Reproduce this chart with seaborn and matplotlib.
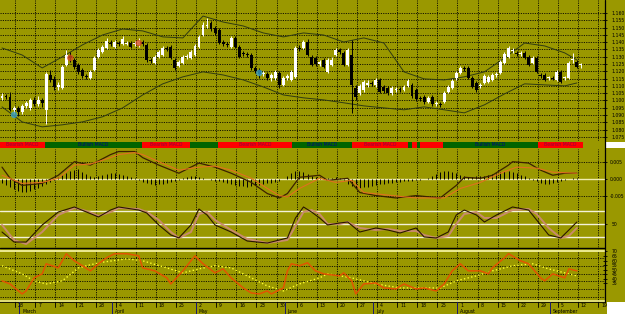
import numpy as np
import pandas as pd
import matplotlib
matplotlib.use("Agg")
import matplotlib.pyplot as plt
import seaborn as sns
from matplotlib.patches import Rectangle
from matplotlib.lines import Line2D

sns.set_style("white")
plt.rcParams['font.family'] = ['DejaVu Sans']

# ---------------- DATA ----------------
opens = [1.1018,1.1031,1.1025,1.0936,1.0949,1.0922,1.0963,1.0949,1.1004,1.0977,1.1004,1.0936,1.1175,1.1148,1.1093,1.1086,
         1.1244,1.1305,1.1278,1.1244,1.1210,1.1168,1.1155,1.1210,1.1299,1.1333,1.1360,1.1394,1.1367,1.1394,1.1388,1.1388,
         1.1394,1.1388,1.1381,1.1401,1.1381,1.1278,1.1258,1.1299,1.1312,1.1360,1.1367,1.1278,1.1237,1.1258,1.1299,1.1292,
         1.1312,1.1367,1.1449,1.1511,1.1531,1.1497,1.1484,1.1401,1.1388,1.1367,1.1429,1.1367,1.1326,1.1319,1.1312,1.1223,
         1.1210,1.1182,1.1182,1.1155,1.1155,1.1189,1.1107,1.1155,1.1141,1.1162,1.1360,1.1360,1.1401,1.1299,1.1292,1.1251,
         1.1278,1.1196,1.1244,1.1312,1.1347,1.1326,1.1244,1.1312,1.1086,1.1052,1.1073,1.1107,1.1121,1.1107,1.1141,1.1093,
         1.1086,1.1052,1.1073,1.1079,1.1073,1.1100,1.1107,1.1073,1.1018,1.1025,1.0990,1.1025,1.0977,1.0977,1.0990,1.1059,
         1.1086,1.1155,1.1189,1.1223,1.1223,1.1155,1.1121,1.1100,1.1121,1.1127,1.1141,1.1175,1.1189,1.1258,1.1299,1.1340,
         1.1326,1.1319,1.1326,1.1299,1.1258,1.1292,1.1175,1.1175,1.1155,1.1155,1.1141,1.1196,1.1155,1.1155,1.1278,1.1264,
         1.1244]
closes = [1.1031,1.1025,1.0936,1.0949,1.0922,1.0963,1.0984,1.1004,1.0977,1.1004,1.0984,1.1182,1.1141,1.1093,1.1107,1.1230,
          1.1312,1.1292,1.1230,1.1196,1.1168,1.1162,1.1196,1.1292,1.1347,1.1367,1.1408,1.1388,1.1401,1.1388,1.1422,1.1394,
          1.1367,1.1394,1.1408,1.1388,1.1278,1.1271,1.1299,1.1333,1.1360,1.1353,1.1292,1.1223,1.1264,1.1299,1.1305,1.1333,
          1.1374,1.1436,1.1518,1.1518,1.1490,1.1463,1.1394,1.1388,1.1381,1.1429,1.1367,1.1299,1.1319,1.1312,1.1223,1.1203,
          1.1182,1.1189,1.1155,1.1175,1.1196,1.1107,1.1155,1.1168,1.1196,1.1360,1.1353,1.1401,1.1312,1.1244,1.1251,1.1264,
          1.1230,1.1278,1.1278,1.1347,1.1333,1.1244,1.1347,1.1107,1.1025,1.1100,1.1127,1.1121,1.1114,1.1141,1.1059,1.1066,
          1.1052,1.1086,1.1079,1.1073,1.1093,1.1134,1.1031,1.1011,1.1011,1.0990,1.1018,1.0977,1.0984,1.0970,1.1052,1.1093,
          1.1134,1.1189,1.1223,1.1216,1.1155,1.1093,1.1073,1.1107,1.1168,1.1162,1.1175,1.1182,1.1264,1.1319,1.1360,1.1347,
          1.1319,1.1326,1.1292,1.1244,1.1292,1.1196,1.1168,1.1141,1.1155,1.1148,1.1196,1.1127,1.1155,1.1258,1.1278,1.1230,
          1.1244]
highs = [1.1052,1.1045,1.1059,1.0963,1.0963,1.0977,1.0997,1.1018,1.1025,1.1031,1.1018,1.1196,1.1210,1.1168,1.1127,1.1244,
         1.1347,1.1333,1.1292,1.1258,1.1223,1.1182,1.1210,1.1305,1.1360,1.1381,1.1429,1.1415,1.1415,1.1408,1.1442,1.1408,
         1.1408,1.1408,1.1429,1.1415,1.1394,1.1292,1.1312,1.1347,1.1374,1.1374,1.1381,1.1292,1.1278,1.1312,1.1319,1.1347,
         1.1388,1.1449,1.1538,1.1566,1.1545,1.1511,1.1497,1.1415,1.1401,1.1442,1.1442,1.1381,1.1340,1.1333,1.1326,1.1237,
         1.1223,1.1203,1.1196,1.1189,1.1210,1.1203,1.1168,1.1182,1.1210,1.1374,1.1381,1.1415,1.1422,1.1312,1.1305,1.1278,
         1.1292,1.1292,1.1299,1.1360,1.1360,1.1340,1.1360,1.1415,1.1107,1.1114,1.1141,1.1141,1.1134,1.1155,1.1155,1.1107,
         1.1100,1.1100,1.1093,1.1093,1.1107,1.1148,1.1121,1.1086,1.1031,1.1038,1.1031,1.1038,1.0997,1.0990,1.1066,1.1107,
         1.1148,1.1203,1.1237,1.1237,1.1237,1.1168,1.1134,1.1121,1.1182,1.1175,1.1189,1.1196,1.1278,1.1333,1.1374,1.1360,
         1.1340,1.1340,1.1340,1.1312,1.1305,1.1305,1.1189,1.1189,1.1168,1.1168,1.1210,1.1210,1.1168,1.1271,1.1326,1.1278,
         1.1258]
lows = [1.1004,1.1011,1.0929,1.0915,1.0894,1.0908,1.0949,1.0936,1.0963,1.0963,1.0956,1.0840,1.1127,1.1073,1.1073,1.1079,
        1.1237,1.1264,1.1216,1.1182,1.1155,1.1148,1.1148,1.1203,1.1292,1.1326,1.1353,1.1374,1.1360,1.1374,1.1381,1.1381,
        1.1360,1.1374,1.1367,1.1374,1.1264,1.1258,1.1251,1.1292,1.1305,1.1340,1.1285,1.1210,1.1230,1.1251,1.1285,1.1285,
        1.1305,1.1360,1.1442,1.1497,1.1477,1.1449,1.1388,1.1374,1.1367,1.1360,1.1360,1.1292,1.1305,1.1299,1.1210,1.1189,
        1.1155,1.1168,1.1141,1.1134,1.1141,1.1086,1.1100,1.1141,1.1134,1.1155,1.1340,1.1353,1.1305,1.1237,1.1237,1.1237,
        1.1223,1.1189,1.1237,1.1305,1.1319,1.1237,1.1237,1.0915,1.1004,1.1038,1.1059,1.1093,1.1100,1.1093,1.1052,1.1052,
        1.1038,1.1038,1.1059,1.1059,1.1066,1.1093,1.1018,1.0997,1.0997,1.0977,1.0984,1.0963,1.0963,1.0956,1.0984,1.1052,
        1.1079,1.1141,1.1182,1.1203,1.1148,1.1086,1.1059,1.1086,1.1114,1.1121,1.1134,1.1162,1.1182,1.1251,1.1292,1.1326,
        1.1305,1.1305,1.1285,1.1237,1.1251,1.1189,1.1155,1.1134,1.1141,1.1141,1.1134,1.1121,1.1141,1.1148,1.1258,1.1223,
        1.1223]

# Bollinger bands (sampled)
bb_idx = [0,5,10,15,20,25,30,35,40,45,50,55,60,65,70,75,80,85,90,95,100,105,110,115,120,125,130,135,140,143]
bb_upper = [1.1360,1.1312,1.1223,1.1299,1.1381,1.1449,1.1490,1.1477,1.1436,1.1429,1.1579,1.1538,1.1511,1.1463,1.1436,
            1.1463,1.1449,1.1401,1.1429,1.1394,1.1196,1.1148,1.1141,1.1162,1.1196,1.1292,1.1394,1.1374,1.1326,1.1278]
bb_lower = [1.0956,1.0853,1.0819,1.0833,1.0853,1.0888,1.0949,1.1038,1.1114,1.1162,1.1196,1.1175,1.1141,1.1093,1.1038,
            1.1018,1.1004,1.0984,1.0963,1.0949,1.0936,1.0956,1.0936,1.0915,1.0970,1.1045,1.1114,1.1107,1.1100,1.1120]

# signal arrows
sell_idx = [17, 34]
sell_val = [1.1292, 1.1394]
buy_idx = [3, 64]
buy_val = [1.0901, 1.1189]

# signal strip
seg_start = [-0.5, 10.7, 34.8, 46.8, 53.7, 72.1, 87.1, 101.0, 102.0, 103.2, 104.0, 109.7, 133.3]
seg_end = [10.7, 34.8, 46.8, 53.7, 72.1, 87.1, 101.0, 102.0, 103.2, 104.0, 109.7, 133.3, 144.5]
seg_kind = ['bear','bull','bear','bull','bear','bull','bear','bull','bear','bull','bear','bull','bear']
seg_label = ['Bearish MACD','Bullish MACD','Bearish MACD','','Bearish MACD','Bullish MACD','Bearish MACD',
             '','','','','Bullish MACD','Bearish MACD']

# MACD
macd_hist = [-0.0012,-0.0018,-0.0024,-0.0030,-0.0033,-0.0036,-0.0036,-0.0033,-0.0030,-0.0027,-0.0021,
             -0.0015,-0.0009,-0.0003,0.0006,0.0012,0.0018,0.0024,0.0027,0.0030,0.0021,0.0015,0.0009,0.0006,
             0.0009,0.0012,0.0015,0.0018,0.0018,0.0015,0.0012,0.0009,0.0006,0.0003,-0.0003,
             -0.0009,-0.0012,-0.0015,-0.0018,-0.0015,-0.0015,-0.0012,-0.0009,-0.0006,-0.0003,
             0.0003,0.0006,0.0009,0.0009,0.0006,0.0003,0.0,-0.0003,-0.0006,-0.0006,
             -0.0009,-0.0012,-0.0015,-0.0018,-0.0021,-0.0021,-0.0024,-0.0021,-0.0018,-0.0018,-0.0015,-0.0012,
             -0.0012,-0.0009,-0.0006,0.0,0.0009,0.0018,0.0024,0.0024,0.0021,0.0015,
             0.0009,0.0006,0.0006,0.0003,0.0003,0.0003,0.0006,0.0003,-0.0003,
             -0.0015,-0.0021,-0.0027,-0.0027,-0.0024,-0.0024,-0.0021,-0.0018,-0.0015,-0.0015,-0.0012,-0.0012,-0.0009,
             -0.0009,-0.0006,-0.0006,-0.0006,-0.0003,-0.0003,0.0,0.0003,0.0009,0.0015,
             0.0021,0.0024,0.0024,0.0021,0.0018,0.0012,0.0009,
             0.0006,0.0006,0.0009,0.0009,0.0009,0.0012,0.0015,0.0018,0.0021,0.0024,
             0.0024,0.0021,0.0018,0.0012,0.0009,0.0003,
             -0.0003,-0.0006,-0.0012,-0.0015,-0.0015,-0.0012,-0.0009,-0.0006,-0.0003,
             0.0,0.0003,0.0003,0.0]
macd_idx = [0,2,5,10,14,18,22,27,29,33,35,39,44,49,53,57,62,66,69,71,74,79,81,86,89,93,98,103,109,113,115,119,122,126,
            127,131,134,137,140,143]
macd_main = [0.0036,0.0003,-0.0018,-0.0012,0.0012,0.0052,0.0042,0.0073,0.0082,0.0082,0.0064,0.0042,0.0018,0.0048,
             0.0036,0.0018,-0.0009,-0.0042,-0.0055,-0.0042,0.0006,0.0012,-0.0003,0.0003,-0.0039,-0.0048,-0.0055,
             -0.0048,-0.0055,-0.0018,0.0006,0.0003,0.0012,0.0042,0.0052,0.0048,0.0027,0.0012,0.0018,0.0018]
sig_idx = [0,5,10,14,18,22,27,29,33,35,39,44,49,53,57,62,66,69,71,74,79,83,87,90,97,103,110,114,119,124,128,133,137,143]
macd_signal = [0.0012,-0.0012,-0.0009,0.0003,0.0042,0.0045,0.0064,0.0073,0.0079,0.0073,0.0052,0.0027,0.0036,0.0039,
               0.0027,0.0003,-0.0027,-0.0048,-0.0052,-0.0027,0.0003,-0.0009,-0.0003,-0.0039,-0.0048,-0.0055,-0.0055,
               -0.0027,-0.0009,0.0018,0.0036,0.0033,0.0021,0.0018]

# Stochastic
stoch_idx = [0,3,6,10,14,18,21,24,27,29,34,36,39,42,44,47,49,51,53,57,61,66,71,73,75,77,79,81,84,86,89,93,96,99,
             103,105,108,111,113,115,118,120,123,127,131,133,136,139,141,143]
stoch_k = [31.5,8.4,8.4,47.7,77.7,89.3,77.7,66.2,82.3,89.3,82.3,75.4,47.7,24.6,18.0,47.7,84.6,70.8,47.7,31.5,
           10.7,6.1,17.7,63.9,89.3,77.7,63.9,47.7,52.3,54.6,31.5,40.8,36.1,29.2,40.8,20.0,17.7,31.5,70.8,82.3,
           70.8,54.6,70.8,89.3,82.3,59.2,24.6,17.7,36.1,54.6]
stoch_d = [47.7,13.1,3.8,31.5,70.8,86.9,80.0,68.5,77.7,86.9,84.6,77.7,59.2,31.5,17.7,31.5,73.1,77.7,59.2,36.1,
           15.4,6.1,13.1,45.4,77.7,82.3,73.1,50.0,50.0,54.6,40.8,36.1,38.5,33.8,33.8,24.6,17.7,22.3,50.0,73.1,
           77.7,63.9,63.9,82.3,84.6,73.1,40.8,17.7,22.3,40.8]

# RSI-type oscillator
rsi_idx = [0,2,5,6,8,10,11,14,16,18,20,22,24,26,28,31,34,35,38,41,42,45,48,50,53,55,57,60,62,64,66,67,70,71,72,
           74,76,78,80,84,85,87,88,90,93,95,98,100,103,105,108,110,112,114,116,119,121,122,125,126,129,131,134,135,
           137,140,141,143]
rsi_val = [37.6,34.2,23.2,26.5,40.9,45.3,56.4,51.9,67.5,59.7,54.2,48.6,56.4,63.0,67.5,67.5,65.2,51.9,48.6,40.9,
           34.2,48.6,65.2,56.4,46.4,50.8,40.9,29.8,24.3,23.2,26.5,23.2,29.8,48.6,56.4,54.2,57.5,48.6,45.3,43.1,
           46.4,37.6,23.2,34.2,35.3,29.8,28.7,34.2,28.7,29.8,26.5,34.2,48.6,56.4,48.6,48.6,45.3,51.9,63.0,67.5,
           59.7,56.4,40.9,37.6,45.3,40.9,50.8,48.6]
rsi_ma_idx = [0,5,8,11,15,19,24,31,35,41,45,49,53,57,62,66,70,74,79,81,87,93,99,104,109,113,118,122,127,132,136,141,143]
rsi_ma = [54.2,45.3,37.6,34.2,37.6,51.9,57.5,61.9,59.7,51.9,46.4,50.8,54.2,51.9,40.9,32.0,26.5,34.2,40.9,45.3,
          40.9,34.2,29.8,29.8,29.8,37.6,43.1,48.6,54.2,56.4,50.8,45.3,43.1]

day_labels = ['28','7','14','21','28','4','11','18','25','2','9','16','23','30','6','13','20','27',
              '4','11','18','25','1','8','15','22','29','5','12','19']
month_labels = ['March','April','May','June','July','August','September']
month_pos = [4.3, 27.3, 48.3, 70.3, 92.3, 113.3, 136.3]

price_ticks = [1.075,1.080,1.085,1.090,1.095,1.100,1.105,1.110,1.115,1.120,1.125,1.130,1.135,1.140,1.145,1.150,1.155,1.160]
macd_ticks = [-0.005, 0.0, 0.005]
rsi_ticks = [35,40,45,50,55,60,65,70]

# ---------------- STYLE / LAYOUT ----------------
OLIVE = '#9a9800'
W, H = 625, 314
AXR = 605
XMIN, XMAX = -0.4975, 150.0
week_pos = 3.3 + 5 * np.arange(len(day_labels))

fig = plt.figure(figsize=(W / 100, H / 100), dpi=100, facecolor=OLIVE)

def panel(y0, y1, x1=AXR, pad=3.0):
    ax = fig.add_axes([0, 1 - y1 / H, x1 / W, (y1 - y0) / H])
    ax.set_facecolor(OLIVE)
    for s in ax.spines.values():
        s.set_visible(False)
    ax.set_xlim(XMIN, XMAX)
    ax.set_xticks([])
    ax.yaxis.tick_right()
    ax.tick_params(axis='y', length=3, direction='inout', width=0.6, labelsize=3.3, pad=pad, colors='black')
    ax.set_yticks([])
    return ax

def vgrid(ax):
    for p in week_pos:
        ax.axvline(p, color='black', lw=0.6, ls=(0, (1.4, 1.4)), zorder=1)

def hgrid(ax, vals):
    for v in vals:
        ax.axhline(v, color='black', lw=0.6, ls=(0, (1.4, 1.4)), zorder=1)

def line(ax, x, y, **kw):
    df = pd.DataFrame({'x': x, 'y': y})
    sns.lineplot(data=df, x='x', y='y', ax=ax, estimator=None, sort=False, legend=False, **kw)
    ax.set_xlabel(''); ax.set_ylabel('')

# ---- price panel ----
axp = panel(0, 141)
axp.set_ylim(1.0722, 1.1689)
vgrid(axp); hgrid(axp, price_ticks)
axp.set_yticks(price_ticks)
axp.set_yticklabels([f"{v:.3f}" for v in price_ticks])
n = min(len(opens), len(closes), len(highs), len(lows))
o = np.array(opens[:n]); c = np.array(closes[:n]); hi = np.array(highs[:n]); lo = np.array(lows[:n])
idx = np.arange(n)
up = c >= o
cols = np.where(up, 'white', 'black')
axp.vlines(idx, lo, hi, colors=cols, lw=0.7, zorder=3)
axp.bar(idx, np.maximum(np.abs(c - o), 0.0004), bottom=np.minimum(o, c), width=0.72,
        color=cols, linewidth=0, zorder=4)
line(axp, bb_idx, bb_upper, color='#2f3a12', linewidth=0.7, zorder=2)
line(axp, bb_idx, bb_lower, color='#2f3a12', linewidth=0.7, zorder=2)
axp.scatter(sell_idx, sell_val, s=22, color='#d04a20', alpha=0.8, edgecolors='none', zorder=5)
axp.scatter(buy_idx, buy_val, s=22, color='#3aa0c8', alpha=0.8, edgecolors='none', zorder=5)

# ---- signal strip ----
axs = panel(141, 148.5)
axs.set_ylim(0, 1)
for s0, s1, k, lab in zip(seg_start, seg_end, seg_kind, seg_label):
    colr = '#ff0000' if k == 'bear' else '#006400'
    axs.add_patch(Rectangle((s0, 0.08), s1 - s0, 0.84, color=colr, lw=0, zorder=2))
    if lab:
        axs.text((s0 + s1) / 2, 0.5, lab, ha='center', va='center', fontsize=3.3,
                 color='#900040' if k == 'bear' else '#000080', zorder=3)

# ---- MACD ----
axm = panel(148.5, 201, pad=1.8)
axm.set_ylim(-0.0064, 0.0091)
vgrid(axm); hgrid(axm, [0.005, -0.005])
axm.axhline(0, color='#f0ecb0', lw=1.0, zorder=2)
axm.set_yticks(macd_ticks)
axm.set_yticklabels(['-0.005', '0.000', '0.005'])
axm.vlines(np.arange(len(macd_hist)), 0, macd_hist, colors='black', lw=0.7, zorder=3)
line(axm, macd_idx, macd_main, color='#3c2000', linewidth=0.9, zorder=4)
line(axm, sig_idx, macd_signal, color='#e07020', linewidth=0.8, zorder=4)

# ---- Stochastic ----
axk = panel(201, 247)
axk.set_ylim(-3.1, 103.1)
vgrid(axk)
for lv in [80, 50, 20]:
    axk.axhline(lv, color='#f4f2d8', lw=1.0, zorder=2)
axk.set_yticks([50]); axk.set_yticklabels(['50'])
line(axk, stoch_idx, stoch_d, color='#c88a6c', linewidth=1.4, zorder=3)
line(axk, stoch_idx, stoch_k, color='#2a1500', linewidth=0.8, zorder=4)

# ---- RSI ----
axr = panel(247, 302)
axr.set_ylim(14.3, 74.9)
vgrid(axr); hgrid(axr, [63.0, 54.2, 45.3, 37.4, 28.7, 19.9])
axr.axhline(74.2, color='black', lw=1.0, zorder=2)
axr.axhline(70, color='#ecea90', lw=1.4, zorder=2)
axr.axhline(15.6, color='#ecea90', lw=1.2, zorder=2)
axr.set_yticks(rsi_ticks); axr.set_yticklabels([str(v) for v in rsi_ticks])
line(axr, rsi_ma_idx, rsi_ma, color='#ffff30', linewidth=1.0, linestyle=':', zorder=3)
line(axr, rsi_idx, rsi_val, color='#e25400', linewidth=1.1, zorder=4)

# ---- date axis ----
axd = panel(302, 314)
axd.set_ylim(0, 1)
axd.axhline(1.0, color='black', lw=1.2)
for p, lab in zip(week_pos, day_labels):
    axd.plot([p, p], [1.0, 0.55], color='black', lw=0.6)
    axd.text(p + 0.7, 0.72, lab, fontsize=3.3, ha='left', va='center', color='black')
for p, lab in zip(month_pos, month_labels):
    axd.plot([p, p], [1.0, 0.0], color='#1a1a70', lw=0.7)
    axd.text(p + 0.7, 0.22, lab, fontsize=3.3, ha='left', va='center', color='black')

# right axis line and white blocks
fig.add_artist(Line2D([AXR / W, AXR / W], [1 - 302 / H, 1.0], color='black', lw=0.9, transform=fig.transFigure))
fig.add_artist(Rectangle((AXR / W + 0.002, 1 - 148 / H), (W - AXR) / W, 6 / H, color='white', lw=0,
                         transform=fig.transFigure))
fig.add_artist(Rectangle((AXR / W + 0.003, 0), (W - AXR) / W, 12 / H, color='white', lw=0,
                         transform=fig.transFigure))

fig.savefig('out.png', dpi=100, facecolor=OLIVE)
